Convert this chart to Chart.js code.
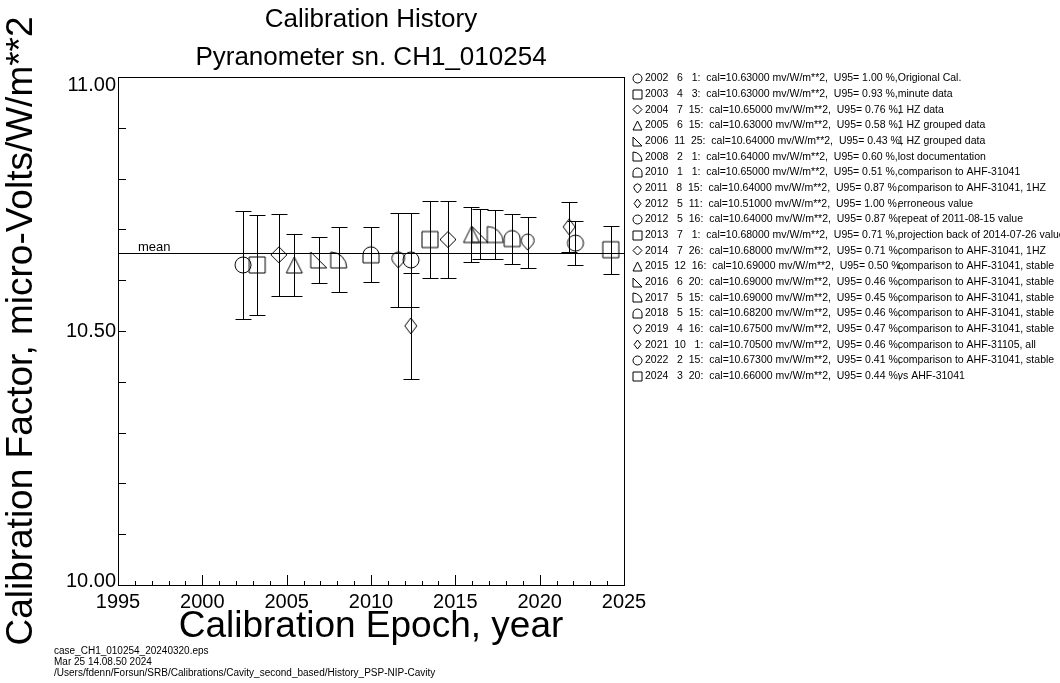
<!DOCTYPE html>
<html lang="en">
<head>
<meta charset="UTF-8">
<title>Calibration History</title>
<script src="https://cdn.jsdelivr.net/npm/chart.js"></script>
<style>
    body { margin: 0; padding: 0; background: #ffffff; }
    #wrap { width: 1060px; height: 683px; }
</style>
</head>
<body>
<div id="wrap"><canvas id="calChart" width="1060" height="683"></canvas></div>
<script>
const calDates = ['2002-06-01', '2003-04-03', '2004-07-15', '2005-06-15', '2006-11-25',
    '2008-02-01', '2010-01-01', '2011-08-15', '2012-05-11', '2012-05-16',
    '2013-07-01', '2014-07-26', '2015-12-16', '2016-06-20', '2017-05-15',
    '2018-05-15', '2019-04-16', '2021-10-01', '2022-02-15', '2024-03-20'];
const calValues = [10.63, 10.63, 10.65, 10.63, 10.64,
    10.64, 10.65, 10.64, 10.51, 10.64,
    10.68, 10.68, 10.69, 10.69, 10.69,
    10.682, 10.675, 10.705, 10.673, 10.66];
const calU95 = [1.00, 0.93, 0.76, 0.58, 0.43,
    0.60, 0.51, 0.87, 1.00, 0.87,
    0.71, 0.71, 0.50, 0.46, 0.45,
    0.46, 0.47, 0.46, 0.41, 0.44];
const calNotes = ['Origional Cal.', 'minute data', '1 HZ data', '1 HZ grouped data', '1 HZ grouped data',
    'lost documentation', 'comparison to AHF-31041', 'comparison to AHF-31041, 1HZ', 'erroneous value', 'repeat of 2011-08-15 value',
    'projection back of 2014-07-26 value', 'comparison to AHF-31041, 1HZ', 'comparison to AHF-31041, stable', 'comparison to AHF-31041, stable', 'comparison to AHF-31041, stable',
    'comparison to AHF-31041, stable', 'comparison to AHF-31041, stable', 'comparison to AHF-31105, all', 'comparison to AHF-31041, stable', 'vs AHF-31041'];
const symbolCycle = ['circle', 'square', 'diamond', 'triangle', 'rtriangle', 'dee', 'dome', 'drop', 'ndiamond'];
const xRange = [1995, 2025];
const yRange = [10.0, 11.0];
const footLines = ['case_CH1_010254_20240320.eps', 'Mar 25 14.08.50 2024',
    '/Users/fdenn/Forsun/SRB/Calibrations/Cavity_second_based/History_PSP-NIP-Cavity'];

const FONT = '"Liberation Sans", Arial, Helvetica, sans-serif';
Chart.defaults.font.family = FONT;
Chart.defaults.color = '#000';

function decYear(s) {
    const [y, m, d] = s.split('-').map(Number);
    const a = Date.UTC(y, 0, 1), b = Date.UTC(y + 1, 0, 1);
    return y + (Date.UTC(y, m - 1, d) - a) / (b - a);
}

// open (unfilled) plot symbols
function makeSymbol(shape, size) {
    const c = document.createElement('canvas');
    const n = size + 4;
    c.width = c.height = n;
    const g = c.getContext('2d');
    g.translate(n / 2, n / 2);
    const r = size / 2;
    g.strokeStyle = '#000';
    g.lineWidth = 1;
    g.beginPath();
    switch (shape) {
        case 'circle':
            g.arc(0, 0, r, 0, Math.PI * 2);
            break;
        case 'square':
            g.rect(-r, -r, 2 * r, 2 * r);
            break;
        case 'diamond':
            g.moveTo(0, -r); g.lineTo(r, 0); g.lineTo(0, r); g.lineTo(-r, 0); g.closePath();
            break;
        case 'ndiamond':
            g.moveTo(0, -r); g.lineTo(r * 0.75, 0); g.lineTo(0, r); g.lineTo(-r * 0.75, 0); g.closePath();
            break;
        case 'triangle':
            g.moveTo(0, -r); g.lineTo(r, r); g.lineTo(-r, r); g.closePath();
            break;
        case 'rtriangle':
            g.moveTo(-r, -r); g.lineTo(r, r); g.lineTo(-r, r); g.closePath();
            break;
        case 'dee':
            g.moveTo(-r, r); g.lineTo(-r, -r); g.arc(-r, r, 2 * r, -Math.PI / 2, 0); g.closePath();
            break;
        case 'dome':
            g.moveTo(-r, r); g.lineTo(-r, 0); g.arc(0, 0, r, Math.PI, 0); g.lineTo(r, r); g.closePath();
            break;
        case 'drop':
            g.arc(0, -0.2 * r, 0.8 * r, 0.75 * Math.PI, 2.25 * Math.PI); g.lineTo(0, r); g.closePath();
            break;
    }
    g.stroke();
    return c;
}

const shapes = calDates.map((d, i) => symbolCycle[i % symbolCycle.length]);
const bigSymbols = shapes.map(s => makeSymbol(s, 16));
const smallSymbols = shapes.map(s => makeSymbol(s, 9));
const points = calDates.map((d, i) => ({ x: decYear(d), y: calValues[i] }));
const meanValue = calValues.reduce((a, b) => a + b, 0) / calValues.length;

function legendPrefix(i) {
    const [y, m, d] = calDates[i].split('-').map(Number);
    return y + ' ' + String(m).padStart(3) + ' ' + String(d).padStart(3) + ':  cal=' +
        calValues[i].toFixed(5) + ' mv/W/m**2,  U95=' + calU95[i].toFixed(2).padStart(5) + ' %,';
}

const calDecor = {
    id: 'calDecor',
    beforeDatasetsDraw(chart) {
        const { ctx, chartArea: a, scales: { x, y } } = chart;
        ctx.save();
        ctx.strokeStyle = '#000';
        ctx.lineWidth = 1;
        // frame
        ctx.strokeRect(Math.round(a.left) + 0.5, Math.round(a.top) + 0.5,
            Math.round(a.right - a.left), Math.round(a.bottom - a.top));
        // ticks (inside)
        ctx.beginPath();
        for (let yr = xRange[0]; yr <= xRange[1]; yr++) {
            const px = Math.round(x.getPixelForValue(yr)) + 0.5;
            const len = yr % 5 === 0 ? 10 : 4;
            ctx.moveTo(px, a.bottom); ctx.lineTo(px, a.bottom - len);
        }
        for (let k = 0; k <= 10; k++) {
            const py = Math.round(y.getPixelForValue(yRange[0] + k * 0.1)) + 0.5;
            ctx.moveTo(a.left, py); ctx.lineTo(a.left + 8, py);
        }
        ctx.stroke();
        // mean line
        const my = Math.round(y.getPixelForValue(meanValue)) + 0.5;
        ctx.beginPath();
        ctx.moveTo(a.left, my); ctx.lineTo(a.right, my);
        ctx.stroke();
        ctx.font = '13px ' + FONT;
        ctx.fillStyle = '#000';
        ctx.textBaseline = 'alphabetic';
        ctx.fillText('mean', a.left + 20, my - 3);
        // error bars
        ctx.beginPath();
        points.forEach((p, i) => {
            const px = Math.round(x.getPixelForValue(p.x)) + 0.5;
            const e = p.y * calU95[i] / 100;
            const top = Math.round(y.getPixelForValue(p.y + e)) + 0.5;
            const bot = Math.round(y.getPixelForValue(p.y - e)) + 0.5;
            ctx.moveTo(px, top); ctx.lineTo(px, bot);
            ctx.moveTo(px - 8, top); ctx.lineTo(px + 8, top);
            ctx.moveTo(px - 8, bot); ctx.lineTo(px + 8, bot);
        });
        ctx.stroke();
        ctx.restore();
    },
    afterDraw(chart) {
        const { ctx, chartArea: a } = chart;
        ctx.save();
        ctx.fillStyle = '#000';
        // legend column
        ctx.font = '10.5px ' + FONT;
        ctx.textBaseline = 'middle';
        const symX = a.right + 13;
        const textX = symX + 8;
        const noteX = textX + ctx.measureText(legendPrefix(0)).width;
        calDates.forEach((d, i) => {
            const ry = a.top + 1.5 + i * 15.67;
            const s = smallSymbols[i];
            ctx.drawImage(s, Math.round(symX - s.width / 2), Math.round(ry - s.height / 2));
            ctx.fillText(legendPrefix(i), textX, ry);
            ctx.fillText(calNotes[i], noteX, ry);
        });
        // file / date stamp
        ctx.font = '10px ' + FONT;
        ctx.textBaseline = 'alphabetic';
        footLines.forEach((t, i) => ctx.fillText(t, 54, 654 + i * 11));
        ctx.restore();
    }
};

new Chart(document.getElementById('calChart'), {
    type: 'scatter',
    data: {
        datasets: [{
            data: points,
            pointStyle: bigSymbols,
            pointRadius: 8,
            borderColor: '#000',
            showLine: false
        }]
    },
    options: {
        responsive: false,
        animation: false,
        events: [],
        layout: { padding: { left: 0, right: 436, top: 1, bottom: 0 } },
        plugins: {
            legend: { display: false },
            tooltip: { enabled: false },
            title: {
                display: true,
                fullSize: false,
                text: ['Calibration History', 'Pyranometer sn. CH1_010254'],
                color: '#000',
                font: { size: 26, weight: 'normal', lineHeight: '38px' },
                padding: 0
            }
        },
        scales: {
            x: {
                type: 'linear',
                min: xRange[0],
                max: xRange[1],
                grid: { display: false, drawTicks: false },
                border: { display: false },
                ticks: { stepSize: 5, font: { size: 20 }, color: '#000', padding: 5, callback: v => String(v) },
                title: { display: true, text: 'Calibration Epoch, year', color: '#000', font: { size: 37 }, padding: { top: 0, bottom: 34 } },
                afterFit: s => { s.height = 98; }
            },
            y: {
                min: yRange[0],
                max: yRange[1],
                grid: { display: false, drawTicks: false },
                border: { display: false },
                ticks: {
                    stepSize: 0.5,
                    color: '#000',
                    padding: 2,
                    // end labels are nudged inside the frame, as in the original
                    font: c => ({ size: 20, lineHeight: c.tick && c.tick.value === yRange[1] ? '16px' : '8px' }),
                    callback: v => v === yRange[1] ? ['', v.toFixed(2)] : v === yRange[0] ? [v.toFixed(2), ''] : v.toFixed(2)
                },
                title: { display: true, text: 'Calibration Factor, micro-Volts/W/m**2', color: '#000', font: { size: 37 }, padding: 0 },
                afterFit: s => { s.width = 118; }
            }
        }
    },
    plugins: [calDecor]
});
</script>
</body>
</html>
